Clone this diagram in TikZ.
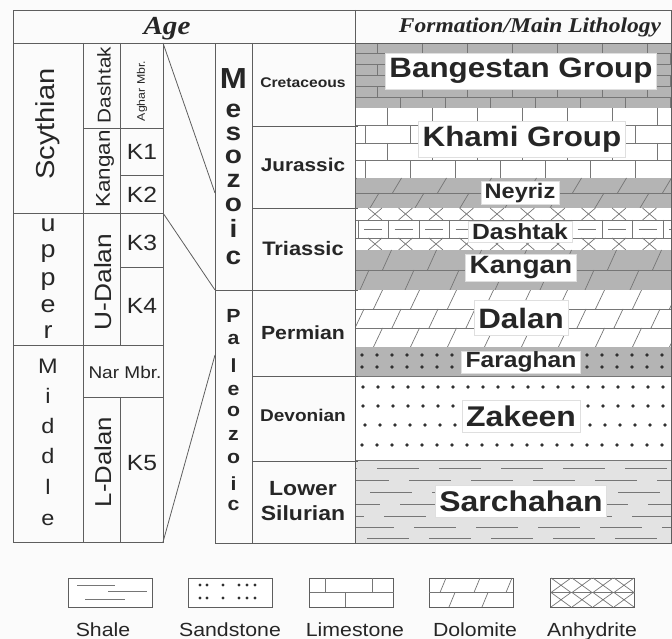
\documentclass[tikz,border=0pt]{standalone}
\usepackage{fontspec}
\setmainfont[FakeStretch=1.12]{Liberation Sans}
\newfontfamily\agefont[FakeStretch=1.12]{Liberation Serif}
\usetikzlibrary{calc}
\definecolor{gridgray}{HTML}{5E5E5E}
\definecolor{patline}{HTML}{767676}
\definecolor{rockgray}{HTML}{B4B4B4}
\definecolor{shalegray}{HTML}{E3E3E3}
\definecolor{dotgray}{HTML}{303030}
\definecolor{paper}{HTML}{FBFBFB}
\newcommand\fsz[1]{\fontsize{#1}{#1}\selectfont}
% limestone beds: top, bottom, rows, offset
\newcommand\limebeds[4]{%
  \begin{scope}
    \clip (355,#1) rectangle (671,#2);
    \pgfmathsetmacro\rowh{(#2-#1)/#3}
    \foreach \r in {1,...,#3}{
      \pgfmathsetmacro\yt{#1+(\r-1)*\rowh}
      \pgfmathsetmacro\yb{#1+\r*\rowh}
      \pgfmathsetmacro\off{#4+mod(\r,2)*22.5}
      \draw[pat] (355,\yb) -- (671,\yb);
      \foreach \xx in {-45,0,...,340}
        \draw[pat] (355+\xx+\off,\yt) -- (355+\xx+\off,\yb);
    }
  \end{scope}}
% dolomite beds: top, bottom, rows, spacing, offset
\newcommand\dolobeds[5]{%
  \begin{scope}
    \clip (355,#1) rectangle (671,#2);
    \pgfmathsetmacro\rowh{(#2-#1)/#3}
    \foreach \r in {1,...,#3}{
      \pgfmathsetmacro\yt{#1+(\r-1)*\rowh}
      \pgfmathsetmacro\yb{#1+\r*\rowh}
      \pgfmathsetmacro\off{#5+mod(\r,2)*#4/2}
      \draw[pat] (355,\yb) -- (671,\yb);
      \foreach \xx in {-#4,0,...,350}
        \draw[pat] (355+\xx+\off,\yb) -- (364+\xx+\off,\yt);
    }
  \end{scope}}
\tikzset{
  gridline/.style={draw=gridgray,line width=0.9pt},
  pat/.style={draw=patline,line width=0.7pt},
  link/.style={draw=gridgray,line width=0.8pt},
  txt/.style={inner sep=0pt,text=black!85},
  rot/.style={txt,rotate=90,font=\fsz{#1}},
  letter/.style={txt,anchor=base,font=\fsz{#1}},
  eraletter/.style={txt,anchor=base,font=\fsz{#1}\bfseries},
  period/.style={txt,align=center,font=\fsz{#1}\bfseries},
  rocklab/.style 2 args={fill=white,draw=gray!25,line width=0.4pt,inner xsep=4pt,
    inner ysep=0pt,minimum height=#2,font=\fsz{#1}\bfseries,text=black!85},
  keybox/.style={draw=gridgray,line width=0.7pt,fill=white,minimum width=84,
    minimum height=29,inner sep=0pt},
  keylab/.style={txt,anchor=base,font=\fsz{19}},
}
\begin{document}
\begin{tikzpicture}[x=1pt,y=-1pt]
\useasboundingbox (0,0) rectangle (672,639);
\fill[paper] (0,0) rectangle (672,639);

% ---- lithology column
\fill[rockgray] (355,43) rectangle (671,108);
\limebeds{43}{108}{6}{0}
\fill[white] (355,108) rectangle (671,178);
\limebeds{108}{178}{4}{10}
\fill[rockgray] (355,178) rectangle (671,208);
\dolobeds{178}{208}{2}{45}{15}
\fill[white] (355,208) rectangle (671,250);
\begin{scope}
  \clip (355,208) rectangle (671,250);
  \draw[pat] (355,220) -- (671,220) (355,238) -- (671,238) (355,250) -- (671,250);
  \foreach \xx in {375,405.5,...,690}{
    \draw[pat] (\xx-7,208) -- (\xx+7,220) (\xx+7,208) -- (\xx-7,220);
    \draw[pat] (\xx-7,238) -- (\xx+7,250) (\xx+7,238) -- (\xx-7,250);
    \draw[pat] (\xx-17,220) -- (\xx-17,238);
    \draw[pat] (\xx-11,229) -- (\xx+7,229);
  }
\end{scope}
\fill[rockgray] (355,250) rectangle (671,290);
\dolobeds{250}{290}{2}{45}{5}
\fill[white] (355,290) rectangle (671,347);
\dolobeds{290}{347}{3}{37}{0}
\fill[rockgray] (355,347) rectangle (671,376);
\foreach \yy in {355,367}
  \foreach \xx in {362,377,...,671}
    \fill[dotgray] (\xx,\yy) circle (1.9);
\fill[white] (355,376) rectangle (671,460);
\foreach \yy/\xs in {387/363,406/363,425/365,445/362}
  \foreach \xx in {0,15,...,305}
    \fill[dotgray] (\xs+\xx,\yy) circle (1.9);
\draw[pat] (355,376) -- (671,376) (355,460) -- (671,460);
\fill[shalegray] (355,460.5) rectangle (671,543);
\begin{scope}
  \clip (355,460.5) rectangle (671,543);
  \foreach \yy/\off in {468/15,480/47,492/8,504/38,516/22,527/52,538/5}
    \foreach \xx in {300,362,...,700}
      \draw[pat] (\xx+\off,\yy) -- (\xx+\off+42,\yy);
\end{scope}

% ---- formation labels
\node[rocklab={28}{36}] (bang) at (521,71) {Bangestan Group};
\node[rocklab={28}{36}] (khami) at (522,139) {Khami Group};
\node[rocklab={21}{23}] (neyriz) at (520,193) {Neyriz};
\node[rocklab={22}{21}] (dashF) at (520,232) {Dashtak};
\node[rocklab={25}{27}] (kangF) at (521,268) {Kangan};
\node[rocklab={28}{35}] (dalan) at (521,318) {Dalan};
\node[rocklab={22}{22}] (faragh) at (521,362) {Faraghan};
\node[rocklab={28.5}{32}] (zakeen) at (521,416) {Zakeen};
\node[rocklab={28.5}{32}] (sarch) at (521,501) {Sarchahan};

% ---- frames
\draw[gridline] (13,10) rectangle (671,43);
\draw[gridline] (355,10) -- (355,43);
\draw[gridline] (13,43) rectangle (163,542);
\draw[gridline] (83,43) -- (83,542);
\draw[gridline] (120,43) -- (120,345) (120,397) -- (120,542);
\draw[gridline] (83,128) -- (163,128) (120,175) -- (163,175) (13,213) -- (163,213)
  (120,267) -- (163,267) (13,345) -- (163,345) (83,397) -- (163,397);
\draw[gridline] (215,43) rectangle (355,543);
\draw[gridline] (252,43) -- (252,543);
\draw[gridline] (252,126) -- (358,126) (252,208) -- (358,208) (215,290) -- (358,290)
  (252,376) -- (358,376) (252,461) -- (358,461);
\draw[gridline] (355,43) rectangle (671,543);

% ---- links between the two age columns
\coordinate (kTop) at (163,43);
\coordinate (kMid) at (163,213);
\coordinate (kBot) at (163,542);
\coordinate (mesoLow) at (215,193);
\coordinate (eraCut) at (215,290);
\coordinate (paleoLow) at (215,355);
\draw[link] (kTop) -- (mesoLow);
\draw[link] (kMid) -- (eraCut);
\draw[link] (kBot) -- (paleoLow);

% ---- headers
\node[txt,anchor=base,font=\agefont\bfseries\itshape\fsz{26}] (age) at (167,35) {Age};
\node[txt,anchor=base,font=\agefont\bfseries\itshape\fsz{21}] (formhead) at (530,33) {Formation/Main Lithology};

% ---- stages and members
\node[rot=26] (scy) at (48,124) {Scythian};
\node[rot=18.5] (dashA) at (104,85) {Dashtak};
\node[rot=11] (aghar) at (142,91) {Aghar Mbr.};
\node[rot=20] (kangA) at (105,169) {Kangan};
\node[rot=23.5] (udalan) at (103,282) {U-Dalan};
\node[rot=23] (ldalan) at (103,462) {L-Dalan};
\node[txt,font=\fsz{17}] (nar) at (125,372) {Nar Mbr.};
\foreach \k/\yy in {1/152,2/195,3/243,4/306,5/463}
  \node[txt,font=\fsz{22}] (k\k) at (142,\yy) {K\k};
\foreach \ch/\yy [count=\n] in {u/232,p/258,p/285,e/312,r/338}
  \node[letter=24] (up\n) at (48,\yy) {\ch};
\foreach \ch/\yy [count=\n] in {M/373,i/403,d/433,d/463,l/494,e/525}
  \node[letter=21] (mid\n) at (48,\yy) {\ch};

% ---- eras and periods
\node[eraletter=29] (meso0) at (233.5,89) {M};
\foreach \ch/\yy [count=\n] in {e/118,s/141,o/164,z/188,o/212,i/237,c/264}
  \node[eraletter=25] (meso\n) at (233.5,\yy) {\ch};
\foreach \ch/\yy [count=\n] in {P/322,a/344,l/372,e/395,o/416,z/440,o/463,i/490,c/510}
  \node[eraletter=19] (paleo\n) at (233.5,\yy) {\ch};
\node[period=14] (cret) at (303,83) {Cretaceous};
\node[period=18.5] (jur) at (303,165) {Jurassic};
\node[period=19.5] (tri) at (303,249) {Triassic};
\node[period=19] (perm) at (303,333) {Permian};
\node[period=17] (dev) at (303,415) {Devonian};
\node[txt,align=center,font=\fontsize{20.5}{25}\selectfont\bfseries] (sil) at (303,501) {Lower\\Silurian};

% ---- legend
\foreach \nm/\cx/\lx in {Shale/110/103,Sandstone/230/230,Limestone/351.5/355,Dolomite/471/475,Anhydrite/592.5/592}{
  \node[keybox] (key\nm) at (\cx,592.5) {};
  \node[keylab] (lab\nm) at (\lx,636) {\nm};
}
\draw[pat] (77,585) -- (115,585) (108,591) -- (147,591) (85,599) -- (125,599);
\foreach \yy in {585,598}
  \foreach \xx in {200,207,223,239,247,255}
    \fill[dotgray] (\xx,\yy) circle (1.7);
\draw[pat] (309.5,592.5) -- (393.5,592.5) (325,578) -- (325,592.5) (372,578) -- (372,592.5)
  (345,592.5) -- (345,607);
\draw[pat] (429,592.5) -- (513,592.5);
\foreach \xx in {440,474,506}
  \draw[pat] (\xx,592.5) -- (\xx+6,578);
\foreach \xx in {449,482}
  \draw[pat] (\xx,607) -- (\xx+6,592.5);
\draw[pat] (550.5,592.5) -- (634.5,592.5);
\foreach \xx in {561,582,603,624}
  \draw[pat] (\xx-10,578) -- (\xx+10,592.5) (\xx+10,578) -- (\xx-10,592.5)
    (\xx-10,592.5) -- (\xx+10,607) (\xx+10,592.5) -- (\xx-10,607);
\end{tikzpicture}
\end{document}
